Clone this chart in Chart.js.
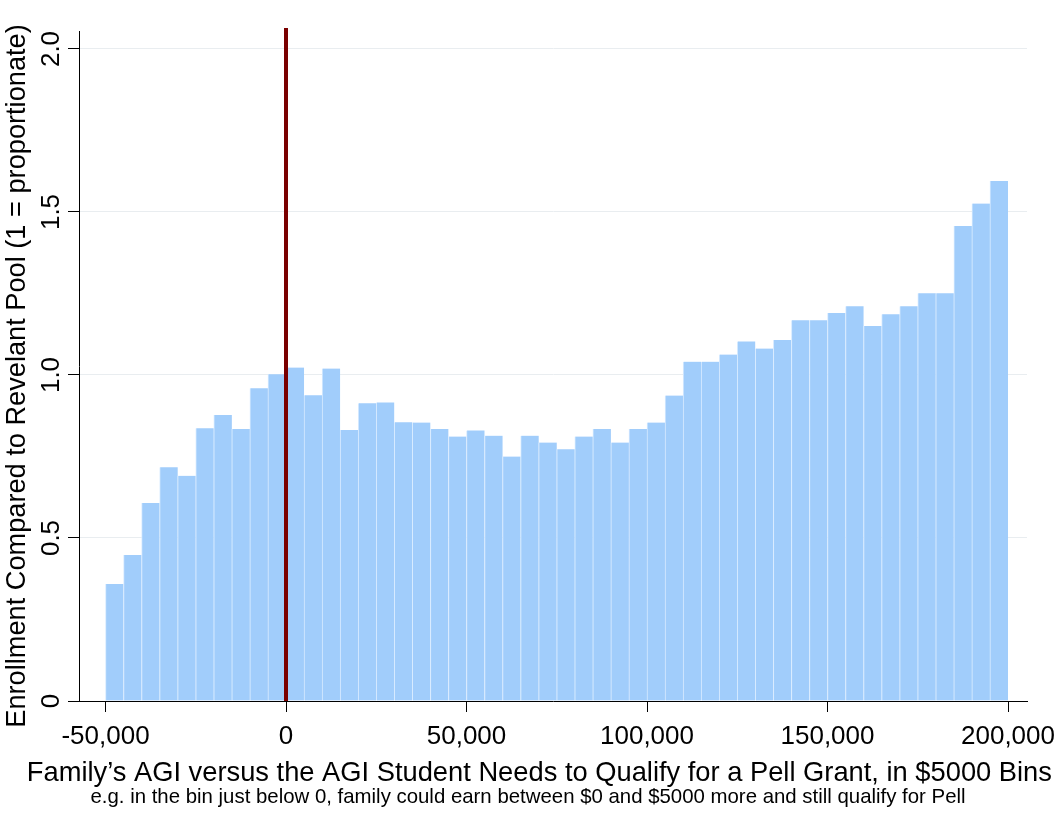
<!DOCTYPE html>
<html><head><meta charset="utf-8">
<script src="https://cdn.jsdelivr.net/npm/chart.js@4.4.1/dist/chart.umd.min.js"></script>
<style>html,body{margin:0;padding:0;background:#fff;}#wrap{width:1056px;height:816px;}</style>
</head><body><div id="wrap"><canvas id="c" width="1056" height="816"></canvas></div>
<script>
const binStarts = [-50000,-45000,-40000,-35000,-30000,-25000,-20000,-15000,-10000,-5000,
  0,5000,10000,15000,20000,25000,30000,35000,40000,45000,
  50000,55000,60000,65000,70000,75000,80000,85000,90000,95000,
  100000,105000,110000,115000,120000,125000,130000,135000,140000,145000,
  150000,155000,160000,165000,170000,175000,180000,185000,190000,195000];
const binWidth = 5000;
const enrollRatio = [0.359,0.448,0.607,0.717,0.691,0.837,0.877,0.834,0.959,1.002,
  1.023,0.938,1.020,0.831,0.913,0.916,0.855,0.854,0.834,0.811,
  0.830,0.814,0.750,0.814,0.793,0.772,0.811,0.834,0.793,0.834,
  0.854,0.937,1.041,1.041,1.063,1.103,1.081,1.107,1.168,1.168,
  1.190,1.211,1.150,1.186,1.211,1.251,1.251,1.457,1.526,1.595];
const xTickValues = [-50000,0,50000,100000,150000,200000];
const yTickValues = [0,0.5,1.0,1.5,2.0];
const yTickLabels = ['0','0.5','1.0','1.5','2.0'];
const cutoffValue = 0;
const xTitle = "Family\u2019s AGI versus the AGI Student Needs to Qualify for a Pell Grant, in $5000 Bins";
const yTitle = "Enrollment Compared to Revelant Pool (1 = proportionate)";
const noteText = "e.g. in the bin just below 0, family could earn between $0 and $5000 more and still qualify for Pell";

const FONT = "'Liberation Sans', Arial, sans-serif";

const cutoffLine = {
  id: 'cutoffLine',
  afterDatasetsDraw(chart) {
    const {ctx, chartArea, scales} = chart;
    const px = scales.x.getPixelForValue(cutoffValue);
    ctx.save();
    ctx.strokeStyle = '#7a0000';
    ctx.lineWidth = 4;
    ctx.beginPath();
    ctx.moveTo(px, chartArea.top - 3);
    ctx.lineTo(px, chartArea.bottom);
    ctx.stroke();
    ctx.restore();
  }
};

const yAxisTitle = {
  id: 'yAxisTitle',
  afterDraw(chart) {
    const {ctx, chartArea} = chart;
    const cy = (chartArea.top + chartArea.bottom) / 2 + 10;
    ctx.save();
    ctx.translate(25, cy);
    ctx.rotate(-Math.PI / 2);
    ctx.font = "normal 27.2px " + FONT;
    ctx.fillStyle = '#000';
    ctx.textAlign = 'center';
    ctx.textBaseline = 'alphabetic';
    ctx.fillText(yTitle, 0, 0);
    ctx.restore();
  }
};

new Chart(document.getElementById('c').getContext('2d'), {
  type: 'bar',
  data: {
    datasets: [{
      data: binStarts.map((s, i) => ({x: s + binWidth / 2, y: enrollRatio[i]})),
      backgroundColor: '#a1cdfb',
      borderColor: '#d8ebff',
      borderWidth: {left: 1, right: 0, top: 0, bottom: 0},
      borderSkipped: false,
      barPercentage: 1,
      categoryPercentage: 1
    }]
  },
  options: {
    responsive: false,
    animation: false,
    devicePixelRatio: 1,
    layout: {padding: {top: 31, right: 0, left: 0, bottom: 0}},
    plugins: {
      legend: {display: false},
      tooltip: {enabled: false},
      title: {
        display: true, position: 'bottom', weight: 1000, text: '   ' + xTitle, color: '#000',
        font: {family: FONT, size: 27.3, lineHeight: 1, weight: 'normal'},
        padding: {top: 0, bottom: 0}
      },
      subtitle: {
        display: true, position: 'bottom', weight: 2000, text: noteText, color: '#000',
        font: {family: FONT, size: 20.4, lineHeight: 1, weight: 'normal'},
        padding: {top: 0, bottom: 8.6}
      }
    },
    scales: {
      x: {
        type: 'linear', min: -57340, max: 205260, offset: false,
        grid: {offset: false, drawOnChartArea: false, drawTicks: true, tickLength: 11, tickColor: '#000', tickWidth: 1},
        border: {display: true, color: '#000', width: 1},
        afterBuildTicks: s => { s.ticks = xTickValues.map(v => ({value: v})); },
        ticks: {
          autoSkip: false, minRotation: 0, maxRotation: 0, padding: 9, color: '#000',
          font: {family: FONT, size: 26, lineHeight: 1.2},
          callback: v => Number(v).toLocaleString('en-US')
        },
        title: {display: false},
        afterFit: s => { s.height = 58.7; s.paddingLeft = 0; s.paddingRight = 29; }
      },
      y: {
        type: 'linear', min: 0, max: 2.0552,
        grid: {color: '#e9edf0', lineWidth: 1, drawTicks: true, tickLength: 11, tickColor: '#000', tickWidth: 1},
        border: {display: true, color: '#000', width: 1},
        afterBuildTicks: s => { s.ticks = yTickValues.map(v => ({value: v})); },
        ticks: {
          autoSkip: false, minRotation: 90, maxRotation: 90, crossAlign: 'center', padding: -2, color: '#000',
          font: {family: FONT, size: 26, lineHeight: 1.2},
          callback: v => yTickLabels[yTickValues.indexOf(v)]
        },
        title: {display: false},
        afterFit: s => { s.width = 79; s.paddingTop = 0; s.paddingBottom = 0; }
      }
    }
  },
  plugins: [cutoffLine, yAxisTitle]
});
</script>
</body></html>
